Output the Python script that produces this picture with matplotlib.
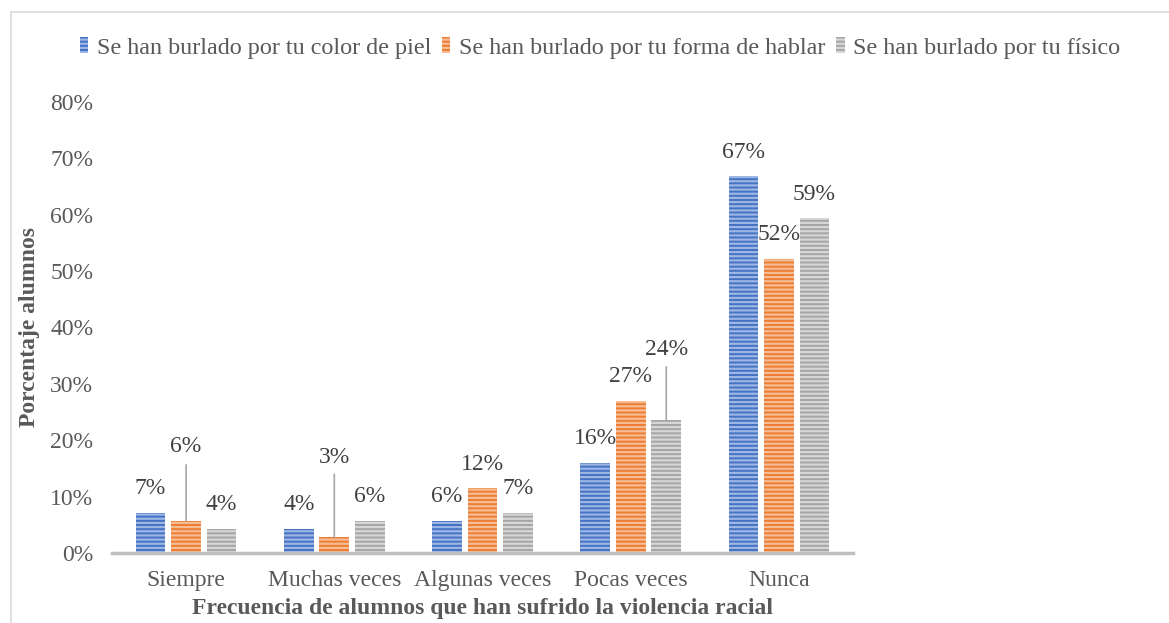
import matplotlib
matplotlib.use("Agg")
import matplotlib.pyplot as plt
from matplotlib.patches import Rectangle
import numpy as np

categories = ["Siempre", "Muchas veces", "Algunas veces", "Pocas veces", "Nunca"]
series_names = ["Se han burlado por tu color de piel",
                "Se han burlado por tu forma de hablar",
                "Se han burlado por tu físico"]
color_piel = [7.1, 4.3, 5.7, 16.0, 66.8]
forma_hablar = [5.7, 2.8, 11.5, 27.0, 52.2]
fisico = [4.3, 5.7, 7.1, 23.6, 59.4]
labels_piel = ["7%", "4%", "6%", "16%", "67%"]
labels_hablar = ["6%", "3%", "12%", "27%", "52%"]
labels_fisico = ["4%", "6%", "7%", "24%", "59%"]
yticks = [0, 10, 20, 30, 40, 50, 60, 70, 80]
ytick_labels = ["0%", "10%", "20%", "30%", "40%", "50%", "60%", "70%", "80%"]

colors = ["#4472C4", "#ED7D31", "#A5A5A5"]
hatch_colors = ["#9DB5E3", "#F6BC95", "#D6D6D6"]

plt.rcParams['font.family'] = ['Liberation Serif', 'DejaVu Serif']
plt.rcParams['hatch.linewidth'] = 1.6

W, H = 1169, 623
fig = plt.figure(figsize=(W/100, H/100), dpi=100)
ax = fig.add_axes([112/W, 1-553/H, (853-112)/W, (553-102)/H])

# outer border of chart area
fig.patches.append(Rectangle((11/W, -0.01), 1.1, 1-12/H+0.01, transform=fig.transFigure,
                             fill=False, edgecolor="#D9D9D9", linewidth=1.2))

x = np.arange(len(categories))
width = 0.2
offset = 0.24
all_vals = [color_piel, forma_hablar, fisico]
all_labels = [labels_piel, labels_hablar, labels_fisico]
bars = []
for i, vals in enumerate(all_vals):
    b = ax.bar(x + (i-1)*offset, vals, width, color=colors[i], edgecolor=hatch_colors[i],
               linewidth=0, hatch='----', label=series_names[i], zorder=2)
    bars.append(b)

# labels: (series index, category index) -> (label offset px, leader end px)
leaders = {(1, 0): (74, 56), (1, 1): (80, 63), (2, 3): (70, 53)}
txtcol = "#404040"
for i, vals in enumerate(all_vals):
    for j, v in enumerate(vals):
        xc = x[j] + (i-1)*offset
        if (i, j) in leaders:
            lo, le = leaders[(i, j)]
            ax.annotate(all_labels[i][j], (xc, v), xytext=(0, lo*0.72), textcoords='offset points',
                        ha='center', va='center', fontsize=17, color=txtcol)
            ax.annotate("", (xc, v), xytext=(0, le*0.72), textcoords='offset points',
                        arrowprops=dict(arrowstyle='-', color='#A6A6A6', lw=1.2,
                                        shrinkA=0, shrinkB=0))
        else:
            ax.annotate(all_labels[i][j], (xc, v), xytext=(0, 24*0.72), textcoords='offset points',
                        ha='center', va='center', fontsize=17, color=txtcol)

ax.set_xlim(-0.5, len(categories)-0.5)
ax.set_ylim(0, 80)
ax.set_yticks(yticks)
ax.set_yticklabels(ytick_labels)
ax.set_xticks(x)
ax.set_xticklabels(categories)
for s in ["top", "right", "left"]:
    ax.spines[s].set_visible(False)
ax.spines["bottom"].set_color("#BFBFBF")
ax.spines["bottom"].set_linewidth(2.5)
ax.tick_params(axis='y', length=0, pad=13.5, labelsize=17, labelcolor="#595959")
ax.tick_params(axis='x', length=0, pad=12, labelsize=17, labelcolor="#595959")

ax.set_ylabel("Porcentaje alumnos", fontsize=17, fontweight='bold', color="#595959", labelpad=7)
ax.set_xlabel("Frecuencia de alumnos que han sufrido la violencia racial", fontsize=17,
              fontweight='bold', color="#595959", labelpad=5)

fig.legend(handles=bars, labels=series_names, loc='center', bbox_to_anchor=(600/W, 1-48/H),
           ncol=3, frameon=False, fontsize=17.4, handlelength=0.35, handleheight=0.65,
           handletextpad=0.35, columnspacing=0.45, labelcolor="#595959")

fig.savefig("out.png", dpi=100)
